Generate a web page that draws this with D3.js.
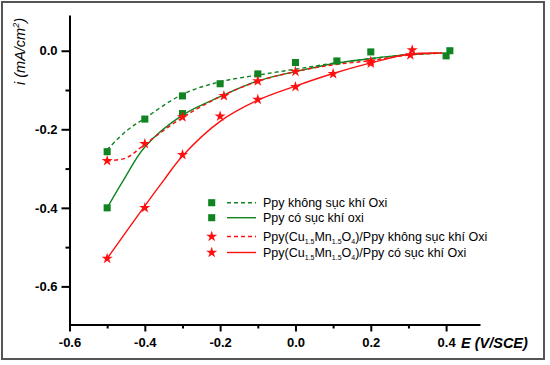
<!DOCTYPE html>
<html><head><meta charset="utf-8">
<script src="https://cdn.jsdelivr.net/npm/d3@7"></script>
<style>body{margin:0;background:#fff}svg{display:block}</style>
</head><body>
<svg id="c" width="550" height="365"></svg>
<script>
// ---- data ----
const xTicksMajor = [-0.6, -0.4, -0.2, 0.0, 0.2, 0.4];
const xTicksMinor = [-0.5, -0.3, -0.1, 0.1, 0.3];
const yTicksMajor = [0.0, -0.2, -0.4, -0.6];
const yTicksMinor = [-0.1, -0.3, -0.5];

// markers
const gDashMX = [-0.5, -0.4, -0.3, -0.2, 0.0, 0.2, 0.41];
const gDashMY = [-0.257, -0.174, -0.115, -0.084, -0.030, -0.003, 0.000];
const gSolMX = [-0.5, -0.3, -0.1, 0.11, 0.4];
const gSolMY = [-0.400, -0.160, -0.059, -0.026, -0.013];
const rDashMX = [-0.5, -0.4, -0.3, -0.19, -0.1, 0.0, 0.2, 0.305];
const rDashMY = [-0.280, -0.237, -0.169, -0.115, -0.077, -0.053, -0.027, -0.011];
const rSolMX = [-0.5, -0.4, -0.3, -0.2, -0.1, 0.0, 0.1, 0.2, 0.31];
const rSolMY = [-0.529, -0.400, -0.265, -0.167, -0.124, -0.092, -0.059, -0.032, 0.002];

// fitted curves
const gDashCX = [-0.5, -0.45, -0.4, -0.3, -0.2, -0.1, 0.0, 0.1, 0.2, 0.3, 0.39];
const gDashCY = [-0.252, -0.205, -0.172, -0.111, -0.079, -0.062, -0.047, -0.032, -0.020, -0.010, -0.006];
const gSolCX = [-0.5, -0.457, -0.4, -0.3, -0.2, -0.1, 0.0, 0.1, 0.2, 0.3, 0.39];
const gSolCY = [-0.400, -0.330, -0.245, -0.164, -0.117, -0.077, -0.053, -0.033, -0.020, -0.010, -0.006];
const rDashCX = [-0.5, -0.45, -0.4, -0.3, -0.2, -0.1, 0.0, 0.1, 0.2, 0.3, 0.39];
const rDashCY = [-0.280, -0.273, -0.238, -0.170, -0.117, -0.078, -0.053, -0.036, -0.025, -0.011, -0.006];
const rSolCX = [-0.5, -0.4, -0.35, -0.3, -0.2, -0.1, 0.0, 0.1, 0.2, 0.3, 0.39];
const rSolCY = [-0.529, -0.395, -0.330, -0.268, -0.180, -0.126, -0.090, -0.058, -0.031, -0.009, -0.006];

const legendLabels = [
  ["Ppy không sục khí Oxi"],
  ["Ppy có sục khí oxi"],
  ["Ppy(Cu", "1.5", "Mn", "1.5", "O", "4", ")/Ppy không sục khí Oxi"],
  ["Ppy(Cu", "1.5", "Mn", "1.5", "O", "4", ")/Ppy có sục khí Oxi"]
];

const GREEN = "#0f8420", RED = "#ff1010";

const svg = d3.select("#c");
svg.append("rect").attr("x", 2).attr("y", 2).attr("width", 542).attr("height", 357)
  .attr("fill", "#fff").attr("stroke", "#555").attr("stroke-width", 2);

const x = d3.scaleLinear().domain([-0.6, 0.49]).range([69.5, 480]);
const y = d3.scaleLinear().domain([-0.697, 0.091]).range([324.5, 15]);

const font = "Arial, 'Liberation Sans', sans-serif";
const fmt = d => d3.format(".1f")(d).replace("\u2212", "-");

// axes (minor ticks first, then major)
svg.append("g").attr("transform", "translate(0,324.5)")
  .call(d3.axisBottom(x).tickValues(xTicksMinor).tickSize(4).tickSizeOuter(0).tickFormat(""))
  .select(".domain").remove();
svg.append("g").attr("transform", "translate(69.5,0)")
  .call(d3.axisLeft(y).tickValues(yTicksMinor).tickSize(4).tickSizeOuter(0).tickFormat(""))
  .select(".domain").remove();
const xAxis = svg.append("g").attr("class", "major").attr("transform", "translate(0,324.5)")
  .call(d3.axisBottom(x).tickValues(xTicksMajor).tickSize(7).tickSizeOuter(0).tickPadding(4)
    .tickFormat(fmt));
const yAxis = svg.append("g").attr("class", "major").attr("transform", "translate(69.5,0)")
  .call(d3.axisLeft(y).tickValues(yTicksMajor).tickSize(8).tickSizeOuter(0).tickPadding(4)
    .tickFormat(fmt));

svg.selectAll(".domain, .tick line").attr("stroke", "#000").attr("stroke-width", 2);
svg.selectAll(".major .tick text").attr("font-family", font).attr("font-size", 13)
  .attr("font-weight", "bold").attr("fill", "#000");
xAxis.selectAll(".tick text").attr("dy", "0.9em");

// axis titles
svg.append("text").attr("x", 461).attr("y", 347.5).attr("font-family", font)
  .attr("font-size", 14.5).attr("font-weight", "bold").attr("font-style", "italic").text("E (V/SCE)");
const yt = svg.append("text").attr("transform", "translate(25,85) rotate(-90)")
  .attr("font-family", font).attr("font-size", 14.5).attr("font-style", "italic");
yt.append("tspan").text("i (mA/cm");
yt.append("tspan").attr("font-size", 9).attr("dy", -6).text("2");
yt.append("tspan").attr("dy", 6).text(")");

// curves
const line = d3.line().x(d => x(d[0])).y(d => y(d[1])).curve(d3.curveCatmullRom);
const zip = (a, b) => a.map((v, i) => [v, b[i]]);
const curves = [
  {xs: gDashCX, ys: gDashCY, color: GREEN, dash: "4,3"},
  {xs: gSolCX, ys: gSolCY, color: GREEN, dash: null},
  {xs: rDashCX, ys: rDashCY, color: RED, dash: "4,3"},
  {xs: rSolCX, ys: rSolCY, color: RED, dash: null}
];
curves.forEach(c => {
  svg.append("path").attr("d", line(zip(c.xs, c.ys))).attr("fill", "none")
    .attr("stroke", c.color).attr("stroke-width", 1.4)
    .attr("stroke-dasharray", c.dash);
});

// markers
const sq = d3.symbol().type(d3.symbolSquare).size(50);
const st = d3.symbol().type(d3.symbolStar).size(38);
const markerSets = [
  {xs: gDashMX, ys: gDashMY, sym: sq, color: GREEN},
  {xs: gSolMX, ys: gSolMY, sym: sq, color: GREEN},
  {xs: rDashMX, ys: rDashMY, sym: st, color: RED},
  {xs: rSolMX, ys: rSolMY, sym: st, color: RED}
];
markerSets.forEach(m => {
  svg.append("g").selectAll("path").data(zip(m.xs, m.ys)).join("path")
    .attr("transform", d => `translate(${x(d[0])},${y(d[1])})`)
    .attr("d", m.sym()).attr("fill", m.color);
});

// legend
const legY = [202.7, 217.7, 236.5, 252.5];
const legSym = [sq, sq, st, st];
const legCol = [GREEN, GREEN, RED, RED];
const legDash = ["4,3", null, "4,3", null];
legendLabels.forEach((parts, i) => {
  const g = svg.append("g").attr("transform", `translate(0,${legY[i]})`);
  g.append("path").attr("transform", "translate(211.7,0)").attr("d", legSym[i]()).attr("fill", legCol[i]);
  g.append("line").attr("x1", 227).attr("x2", 256).attr("y1", 0).attr("y2", 0)
    .attr("stroke", legCol[i]).attr("stroke-width", 1.4).attr("stroke-dasharray", legDash[i]);
  const t = g.append("text").attr("x", 263).attr("y", 4.5).attr("font-family", font).attr("font-size", 12.5);
  parts.forEach((p, j) => {
    if (j % 2 === 1) {
      t.append("tspan").attr("font-size", 7).attr("dy", 3).text(p);
    } else {
      const ts = t.append("tspan").text(p);
      if (j > 0) ts.attr("dy", -3);
    }
  });
});
</script>
</body></html>
